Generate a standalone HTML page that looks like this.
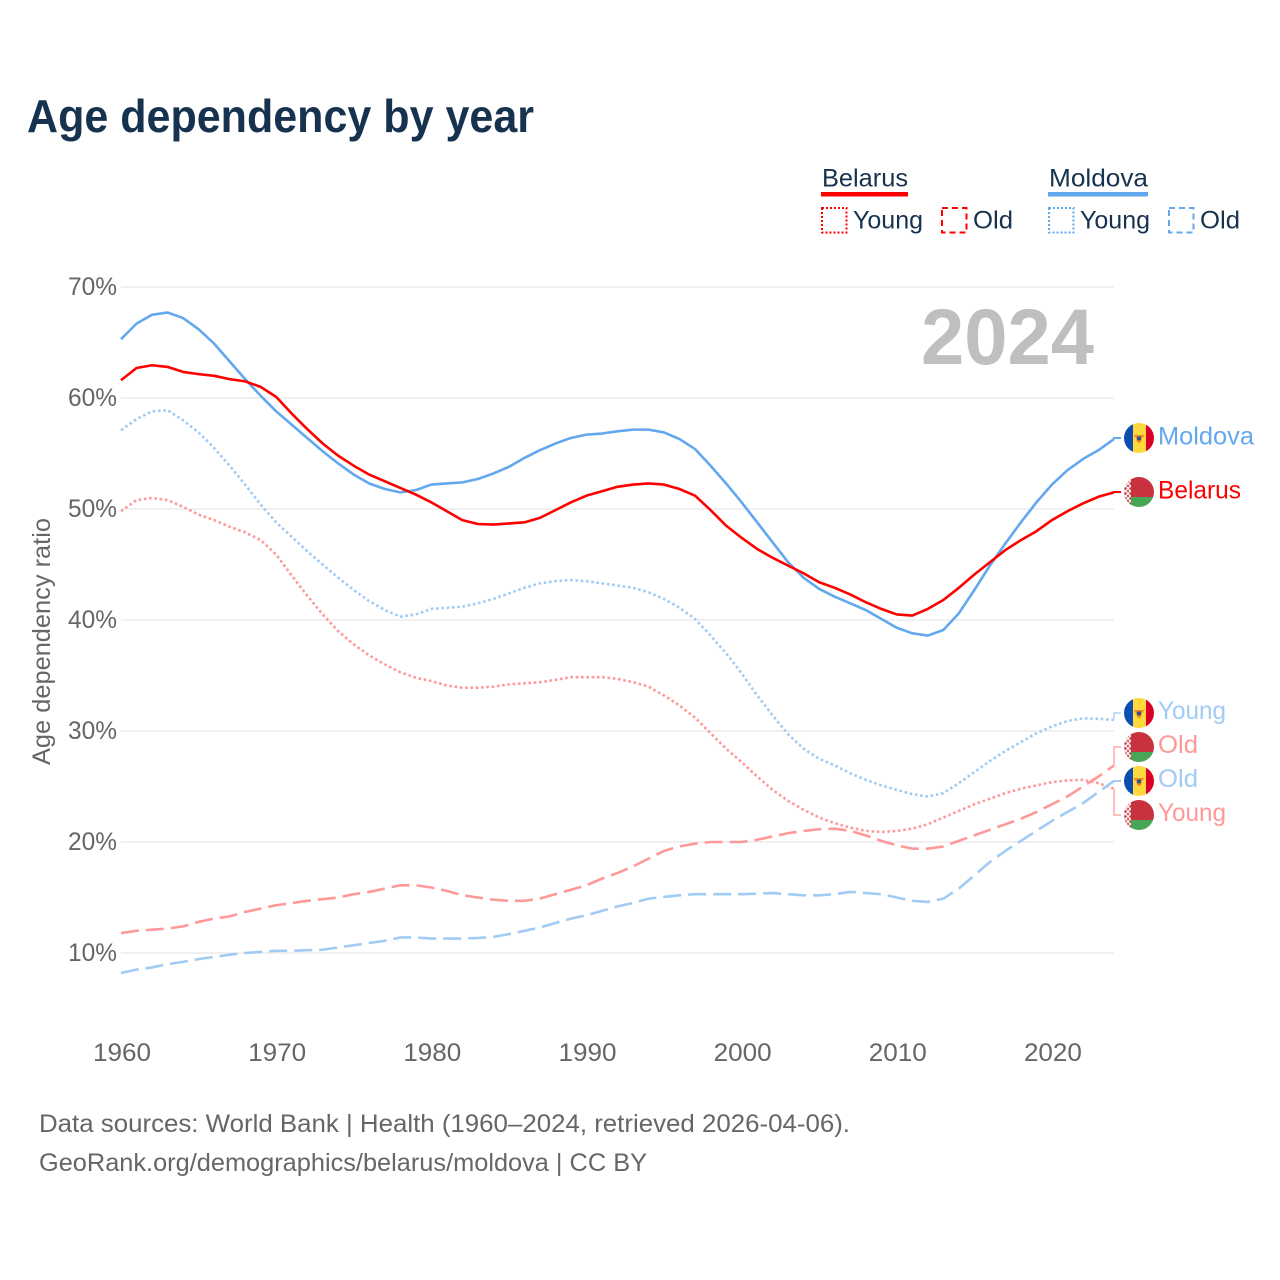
<!DOCTYPE html>
<html lang="en">
<head>
<meta charset="utf-8">
<title>Age dependency by year</title>
<style>
html,body{margin:0;padding:0;background:#fff;}
svg{display:block;font-family:"Liberation Sans",sans-serif;}
</style>
</head>
<body>
<svg id="chart" xmlns="http://www.w3.org/2000/svg" width="1280" height="1280" viewBox="0 0 1280 1280">
<defs>
<clipPath id="flag-clip"><circle cx="0" cy="0" r="15"/></clipPath>
<pattern id="by-ornament" width="5" height="5" patternUnits="userSpaceOnUse"><rect width="5" height="5" fill="#f4e4e4"/><circle cx="1.5" cy="1.5" r="1.2" fill="#c8313e"/><circle cx="4" cy="4" r="1" fill="#c8313e"/></pattern>
<g id="flag-md">
<g clip-path="url(#flag-clip)">
<rect x="-15" y="-15" width="9" height="30" fill="#0b4eb0"/>
<rect x="-6" y="-15" width="13" height="30" fill="#ffd83d"/>
<rect x="7" y="-15" width="8" height="30" fill="#d80027"/>
<path d="M-5.5,-3 L5.5,-3 L2.5,1 L2.5,3 L0,5.5 L-2.5,3 L-2.5,1 Z" fill="#f28c1e"/>
<rect x="-1.8" y="-1.5" width="3.6" height="3.8" fill="#1d4fa0"/>
</g>
</g>
<g id="flag-by">
<g clip-path="url(#flag-clip)">
<rect x="-15" y="-15" width="30" height="20" fill="#c8313e"/>
<rect x="-15" y="5" width="30" height="10" fill="#4aa657"/>
<rect x="-15" y="-15" width="7" height="30" fill="url(#by-ornament)"/>
</g>
</g>
</defs>

<text x="27" y="132" font-size="46" font-weight="700" fill="#17324f" textLength="507" lengthAdjust="spacingAndGlyphs">Age dependency by year</text>

<g font-size="25" fill="#17324f">
<text x="822" y="186.5" textLength="86" lengthAdjust="spacingAndGlyphs">Belarus</text>
<rect x="821" y="192" width="87" height="4.5" fill="#ff0000"/>
<rect x="822" y="208" width="24.5" height="24.5" fill="none" stroke="#ff0000" stroke-width="2" stroke-dasharray="2 2"/>
<text x="853" y="228.5" textLength="70" lengthAdjust="spacingAndGlyphs">Young</text>
<rect x="942" y="208" width="24.5" height="24.5" fill="none" stroke="#ff0000" stroke-width="2" stroke-dasharray="6 4"/>
<text x="973" y="228.5" textLength="40" lengthAdjust="spacingAndGlyphs">Old</text>
<text x="1049" y="186.5" textLength="99" lengthAdjust="spacingAndGlyphs">Moldova</text>
<rect x="1048" y="192" width="100" height="4.5" fill="#63a8ee"/>
<rect x="1049" y="208" width="24.5" height="24.5" fill="none" stroke="#63a8ee" stroke-width="2" stroke-dasharray="2 2"/>
<text x="1080" y="228.5" textLength="70" lengthAdjust="spacingAndGlyphs">Young</text>
<rect x="1169" y="208" width="24.5" height="24.5" fill="none" stroke="#63a8ee" stroke-width="2" stroke-dasharray="6 4"/>
<text x="1200" y="228.5" textLength="40" lengthAdjust="spacingAndGlyphs">Old</text>
</g>

<g id="grid"></g>
<g id="y-ticks" font-size="25" fill="#666666"></g>
<g id="x-ticks" font-size="25" fill="#666666"></g>
<text transform="translate(50 765) rotate(-90)" font-size="25" fill="#666666" textLength="247" lengthAdjust="spacingAndGlyphs">Age dependency ratio</text>
<text x="1094" y="364" text-anchor="end" font-size="79" font-weight="700" fill="#bfbfbf" textLength="173" lengthAdjust="spacingAndGlyphs">2024</text>

<g id="series"></g>
<g id="connectors"></g>

<g font-size="25">
<use href="#flag-md" x="1139" y="438"/>
<text x="1158" y="444.5" fill="#63a8ee" textLength="96" lengthAdjust="spacingAndGlyphs">Moldova</text>
<use href="#flag-by" x="1139" y="492"/>
<text x="1158" y="498.5" fill="#ff0000" textLength="83" lengthAdjust="spacingAndGlyphs">Belarus</text>
<use href="#flag-md" x="1139" y="713"/>
<text x="1158" y="719" fill="#a1cbf5" textLength="68" lengthAdjust="spacingAndGlyphs">Young</text>
<use href="#flag-by" x="1139" y="747"/>
<text x="1158" y="753" fill="#ff9999" textLength="40" lengthAdjust="spacingAndGlyphs">Old</text>
<use href="#flag-md" x="1139" y="781"/>
<text x="1158" y="787" fill="#a1cbf5" textLength="40" lengthAdjust="spacingAndGlyphs">Old</text>
<use href="#flag-by" x="1139" y="815"/>
<text x="1158" y="821" fill="#ff9999" textLength="68" lengthAdjust="spacingAndGlyphs">Young</text>
</g>

<g font-size="25" fill="#666666">
<text x="39" y="1132" textLength="811" lengthAdjust="spacingAndGlyphs">Data sources: World Bank | Health (1960–2024, retrieved 2026-04-06).</text>
<text x="39" y="1171" textLength="608" lengthAdjust="spacingAndGlyphs">GeoRank.org/demographics/belarus/moldova | CC BY</text>
</g>
</svg>

<script>
const years = [1960,1961,1962,1963,1964,1965,1966,1967,1968,1969,1970,1971,1972,1973,1974,1975,1976,1977,1978,1979,1980,1981,1982,1983,1984,1985,1986,1987,1988,1989,1990,1991,1992,1993,1994,1995,1996,1997,1998,1999,2000,2001,2002,2003,2004,2005,2006,2007,2008,2009,2010,2011,2012,2013,2014,2015,2016,2017,2018,2019,2020,2021,2022,2023,2024];
const moldovaTotal = [65.3,66.7,67.5,67.7,67.2,66.2,64.9,63.3,61.7,60.2,58.8,57.6,56.4,55.2,54.1,53.1,52.3,51.8,51.5,51.7,52.2,52.3,52.4,52.7,53.2,53.8,54.6,55.3,55.9,56.4,56.7,56.8,57.0,57.15,57.15,56.9,56.3,55.4,53.9,52.3,50.6,48.8,47.0,45.2,43.8,42.8,42.1,41.5,40.9,40.1,39.3,38.8,38.6,39.1,40.6,42.7,44.9,46.9,48.8,50.6,52.2,53.5,54.5,55.3,56.3];
const belarusTotal = [61.6,62.7,62.95,62.8,62.35,62.15,62.0,61.7,61.5,61.0,60.1,58.6,57.2,55.9,54.8,53.9,53.1,52.5,51.9,51.3,50.6,49.8,49.0,48.65,48.6,48.7,48.8,49.2,49.9,50.6,51.2,51.6,52.0,52.2,52.3,52.2,51.8,51.2,49.9,48.5,47.4,46.4,45.6,44.9,44.2,43.4,42.9,42.3,41.6,41.0,40.5,40.4,41.0,41.8,42.9,44.1,45.2,46.3,47.2,48.0,49.0,49.8,50.5,51.1,51.5];
const moldovaYoung = [57.1,58.1,58.8,58.9,58.0,56.9,55.5,53.9,52.2,50.4,48.8,47.5,46.2,45.0,43.8,42.7,41.7,40.9,40.3,40.5,41.0,41.1,41.2,41.5,41.9,42.4,42.9,43.3,43.5,43.6,43.5,43.3,43.1,42.9,42.5,41.9,41.1,40.1,38.6,37.0,35.2,33.2,31.4,29.7,28.4,27.5,26.9,26.2,25.6,25.1,24.7,24.3,24.1,24.4,25.3,26.3,27.3,28.2,29.0,29.8,30.4,30.9,31.15,31.1,31.0];
const belarusYoung = [49.8,50.8,51.0,50.8,50.2,49.5,49.0,48.4,47.9,47.2,45.9,44.0,42.2,40.5,39.0,37.8,36.8,36.0,35.3,34.8,34.5,34.1,33.9,33.9,34.0,34.2,34.3,34.4,34.6,34.85,34.85,34.85,34.7,34.4,34.0,33.2,32.3,31.2,29.8,28.4,27.2,25.9,24.7,23.7,22.9,22.2,21.7,21.3,21.0,20.9,21.0,21.2,21.6,22.2,22.8,23.4,23.9,24.4,24.8,25.1,25.4,25.55,25.6,25.3,24.8];
const belarusOld = [11.8,12.0,12.1,12.2,12.4,12.8,13.1,13.3,13.7,14.0,14.3,14.5,14.7,14.85,15.0,15.3,15.5,15.8,16.1,16.1,15.9,15.6,15.2,15.0,14.8,14.7,14.7,14.9,15.3,15.7,16.1,16.7,17.2,17.8,18.5,19.2,19.6,19.85,20.0,20.0,20.0,20.2,20.5,20.8,21.0,21.15,21.2,21.0,20.6,20.1,19.7,19.4,19.4,19.6,20.1,20.6,21.1,21.6,22.1,22.7,23.4,24.1,25.0,25.9,26.9];
const moldovaOld = [8.2,8.5,8.7,9.0,9.2,9.45,9.65,9.85,10.0,10.1,10.2,10.2,10.25,10.3,10.5,10.7,10.9,11.1,11.4,11.4,11.3,11.3,11.3,11.35,11.45,11.7,12.0,12.3,12.7,13.1,13.4,13.8,14.2,14.5,14.9,15.05,15.2,15.3,15.3,15.3,15.3,15.35,15.4,15.3,15.2,15.2,15.3,15.5,15.4,15.3,15.0,14.7,14.6,14.9,15.8,17.0,18.2,19.2,20.1,21.0,21.9,22.7,23.5,24.5,25.5];
const yTickValues = [10,20,30,40,50,60,70];
const xTickYears = [1960,1970,1980,1990,2000,2010,2020];

const SVG_NS = 'http://www.w3.org/2000/svg';
function xScale(year){ return 121 + (year - 1960) * (993 / 64); }
function yScale(value){ return 953 - (value - 10) * 11.1; }
function make(tag, attrs, parent){
  const el = document.createElementNS(SVG_NS, tag);
  for (const k in attrs) el.setAttribute(k, attrs[k]);
  parent.appendChild(el);
  return el;
}
const gridG = document.getElementById('grid');
const yTicksG = document.getElementById('y-ticks');
const xTicksG = document.getElementById('x-ticks');
const seriesG = document.getElementById('series');
const connectorsG = document.getElementById('connectors');

yTickValues.forEach(function(v){
  const line = make('line', {x1:121, x2:1114, y1:yScale(v), y2:yScale(v), stroke:'#ececec', 'stroke-width':1.5}, gridG);
  
  
  const t = make('text', {x:117, y:yScale(v)+8, 'text-anchor':'end', textLength:49, lengthAdjust:'spacingAndGlyphs'}, yTicksG);
  t.textContent = v + '%';
  
  
});
xTickYears.forEach(function(yr){
  const t = make('text', {x:xScale(yr)+1, y:1061, 'text-anchor':'middle', textLength:58, lengthAdjust:'spacingAndGlyphs'}, xTicksG);
  t.textContent = String(yr);
  
  
});

function drawSeries(name, values, color, dash, width){
  const d = values.map(function(v,i){ return (i ? 'L' : 'M') + xScale(years[i]).toFixed(2) + ',' + yScale(v).toFixed(2); }).join('');
  const attrs = {d:d, fill:'none', stroke:color, 'stroke-width':width, 'stroke-linejoin':'round'};
  if (dash) attrs['stroke-dasharray'] = dash;
  const p = make('path', attrs, seriesG);
  
  
}
function drawConnector(name, values, color, labelY){
  const ex = xScale(years[years.length-1]);
  const ey = yScale(values[values.length-1]);
  const p = make('polyline', {points: ex+','+ey+' '+ex+','+labelY+' 1121,'+labelY, fill:'none', stroke:color, 'stroke-width':2}, connectorsG);
  
  
}
drawSeries('line-belarus-young', belarusYoung, '#ff9999', '2.6 2.7', 2.6);
drawSeries('line-moldova-young', moldovaYoung, '#a1cbf5', '2.6 2.7', 2.6);
drawSeries('line-belarus-old', belarusOld, '#ff9999', '18 7', 2.6);
drawSeries('line-moldova-old', moldovaOld, '#a1cbf5', '18 7', 2.6);
drawSeries('line-moldova-total', moldovaTotal, '#63a8ee', '', 2.6);
drawSeries('line-belarus-total', belarusTotal, '#ff0000', '', 2.6);

drawConnector('connector-moldova', moldovaTotal, '#63a8ee', 438);
drawConnector('connector-belarus', belarusTotal, '#ff0000', 492);
drawConnector('connector-moldova-young', moldovaYoung, '#c4dff8', 713);
drawConnector('connector-belarus-old', belarusOld, '#ffbdbd', 747);
drawConnector('connector-moldova-old', moldovaOld, '#a1cbf5', 781);
drawConnector('connector-belarus-young', belarusYoung, '#ffbdbd', 815);
</script>
</body>
</html>
